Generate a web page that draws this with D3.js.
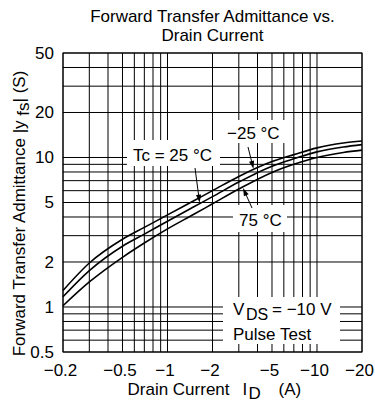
<!DOCTYPE html>
<html><head><meta charset="utf-8">
<script src="https://cdn.jsdelivr.net/npm/d3@7/dist/d3.min.js"></script>
<style>
html,body{margin:0;padding:0;background:#fff;}
svg{display:block;font-family:"Liberation Sans",Arial,Helvetica,sans-serif;}
</style></head><body>
<svg id="chart" width="375" height="405"></svg>
<script>
// ---- data ----
const currents = [0.2, 0.3, 0.5, 0.7, 1, 1.5, 2, 3, 5, 7, 10, 15, 20];       // |I_D| (A)
const yfsMinus25 = [1.29, 1.97, 2.84, 3.41, 4.13, 5.14, 6.0, 7.47, 9.4, 10.45, 11.6, 12.5, 12.9];
const yfs25      = [1.17, 1.75, 2.55, 3.07, 3.75, 4.68, 5.47, 6.85, 8.75, 9.8, 10.9, 11.75, 12.2];
const yfs75      = [1.02, 1.47, 2.15, 2.68, 3.33, 4.17, 4.9, 6.15, 7.95, 9.0, 10.0, 10.8, 11.2];
const seriesLabels = ["\u221225 \u00b0C", "Tc = 25 \u00b0C", "75 \u00b0C"];
const xTickValues = [0.2, 0.5, 1, 2, 5, 10, 20];
const xTickLabels = ["\u22120.2", "\u22120.5", "\u22121", "\u22122", "\u22125", "\u221210", "\u221220"];
const yTickValues = [0.5, 1, 2, 5, 10, 20, 50];
const yTickLabels = ["0.5", "1", "2", "5", "10", "20", "50"];

// ---- layout ----
const FS = 17;
const m = {left: 63, top: 53, right: 362, bottom: 352};
const svg = d3.select("#chart");
const x = d3.scaleLog().domain([0.2, 20]).range([m.left, m.right]);
const y = d3.scaleLog().domain([0.5, 50]).range([m.bottom, m.top]);
const cx = (m.left + m.right) / 2;

// grid
const grid = svg.append("g").attr("stroke", "#000").attr("stroke-width", 1);
grid.selectAll("line.v").data(x.ticks()).join("line").attr("class", "v")
  .attr("x1", d => x(d)).attr("x2", d => x(d)).attr("y1", m.top).attr("y2", m.bottom);
grid.selectAll("line.h").data(y.ticks()).join("line").attr("class", "h")
  .attr("y1", d => y(d)).attr("y2", d => y(d)).attr("x1", m.left).attr("x2", m.right);

// white label boxes that interrupt the grid
const boxes = [
  [127, 140, 93, 26],   // Tc = 25 °C
  [221, 120, 69, 23],   // -25 °C
  [233, 205, 54, 27],   // 75 °C
  [223, 297, 117, 47]   // VDS / Pulse Test
];
svg.append("g").selectAll("rect").data(boxes).join("rect")
  .attr("x", d => d[0]).attr("y", d => d[1]).attr("width", d => d[2]).attr("height", d => d[3])
  .attr("fill", "#fff");

// frame
svg.append("rect").attr("x", m.left).attr("y", m.top)
  .attr("width", m.right - m.left).attr("height", m.bottom - m.top)
  .attr("fill", "none").attr("stroke", "#000").attr("stroke-width", 1);

// curves
const series = [yfsMinus25, yfs25, yfs75];
const line = d3.line().x((d, i) => x(currents[i])).y(d => y(d)).curve(d3.curveMonotoneX);
svg.append("g").selectAll("path").data(series).join("path")
  .attr("d", d => line(d)).attr("fill", "none").attr("stroke", "#000").attr("stroke-width", 1.6);

function valAt(vals, I) {
  for (let k = 0; k < currents.length - 1; k++) {
    if (I >= currents[k] && I <= currents[k + 1]) {
      const t = Math.log(I / currents[k]) / Math.log(currents[k + 1] / currents[k]);
      return Math.exp(Math.log(vals[k]) + t * Math.log(vals[k + 1] / vals[k]));
    }
  }
  return vals[vals.length - 1];
}
function arrow(x1, y1, I, vals, off) {
  const x2 = x(I), y2 = y(valAt(vals, I)) + off;
  const a = Math.atan2(y2 - y1, x2 - x1), L = 8, w = 2.6;
  svg.append("line").attr("x1", x1).attr("y1", y1).attr("x2", x2 - 4 * Math.cos(a)).attr("y2", y2 - 4 * Math.sin(a))
    .attr("stroke", "#000").attr("stroke-width", 1);
  const p = [[x2, y2],
    [x2 - L * Math.cos(a) + w * Math.sin(a), y2 - L * Math.sin(a) - w * Math.cos(a)],
    [x2 - L * Math.cos(a) - w * Math.sin(a), y2 - L * Math.sin(a) + w * Math.cos(a)]];
  svg.append("path").attr("d", "M" + p.join("L") + "Z").attr("fill", "#000");
}
arrow(248, 147, 3.76, yfsMinus25, -1);
arrow(195, 168, 1.64, yfs25, -1);
arrow(252, 208, 3.2, yfs75, 1);

// annotation texts
const ann = svg.append("g").attr("font-size", FS).attr("fill", "#000");
ann.append("text").attr("x", 227).attr("y", 139).text(seriesLabels[0]);
ann.append("text").attr("x", 133).attr("y", 161).text(seriesLabels[1]);
ann.append("text").attr("x", 239).attr("y", 226).text(seriesLabels[2]);
const vds = ann.append("text").attr("x", 233).attr("y", 315);
vds.append("tspan").text("V");
vds.append("tspan").attr("x", 246).attr("dy", 5).attr("font-size", 16).text("DS");
vds.append("tspan").attr("x", 272).attr("dy", -5).text("= \u221210 V");
ann.append("text").attr("x", 233).attr("y", 340).text("Pulse Test");

// axes (labels only)
const xAxis = svg.append("g").attr("transform", `translate(0,${m.bottom})`)
  .call(d3.axisBottom(x).tickValues(xTickValues).tickFormat((d, i) => xTickLabels[i]).tickSize(0).tickPadding(12));
xAxis.select(".domain").remove();
xAxis.selectAll("text").attr("font-size", FS).attr("font-family", null).attr("fill", "#000").attr("dx", -3);

const yAxis = svg.append("g").attr("transform", `translate(${m.left},0)`)
  .call(d3.axisLeft(y).tickValues(yTickValues).tickFormat((d, i) => yTickLabels[i]).tickSize(0).tickPadding(9));
yAxis.select(".domain").remove();
yAxis.selectAll("text").attr("font-size", FS).attr("font-family", null).attr("fill", "#000");

// titles
const title = svg.append("g").attr("font-size", FS).attr("text-anchor", "middle");
title.append("text").attr("x", cx).attr("y", 22).text("Forward Transfer Admittance vs.");
title.append("text").attr("x", cx).attr("y", 41).text("Drain Current");

const xt = svg.append("text").attr("font-size", FS).attr("y", 395);
xt.append("tspan").attr("x", cx - 85).text("Drain Current");
xt.append("tspan").attr("x", cx + 30).text("I");
xt.append("tspan").attr("x", cx + 36).attr("dy", 4).text("D");
xt.append("tspan").attr("x", cx + 66).attr("dy", -4).text("(A)");

const yt = svg.append("text").attr("font-size", FS).attr("text-anchor", "middle")
  .attr("transform", `translate(25,${(m.top + m.bottom) / 2 + 11}) rotate(-90)`);
yt.append("tspan").text("Forward Transfer Admittance |y ");
yt.append("tspan").attr("dy", 4).text("fs");
yt.append("tspan").attr("dy", -4).text("| (S)");
</script>
</body></html>
